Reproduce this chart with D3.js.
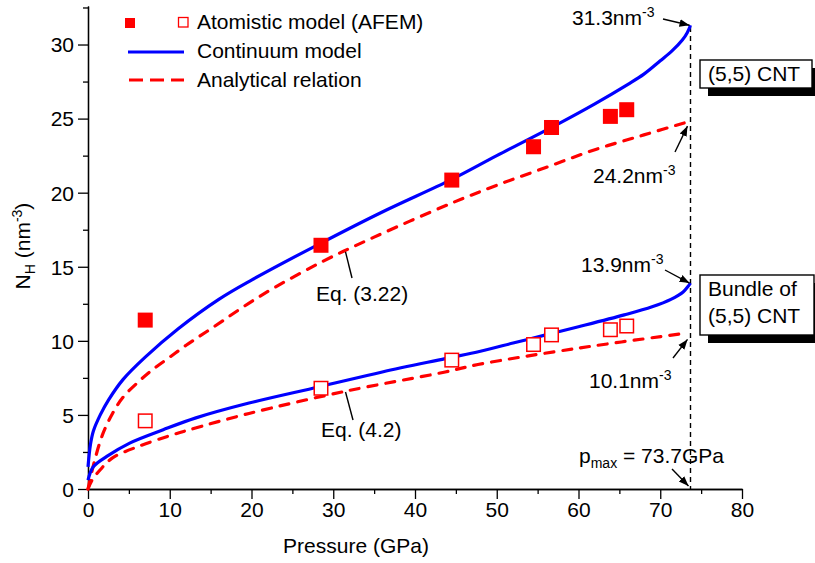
<!DOCTYPE html>
<html>
<head>
<meta charset="utf-8">
<script src="https://cdn.jsdelivr.net/npm/d3@7"></script>
<style>
  body { margin: 0; background: #fff; }
  svg { display: block; }
</style>
</head>
<body>
<div id="chart"></div>
<script>
// values
var atomP = [7, 28.5, 44.5, 54.5, 56.7, 63.9, 65.9];
var atomTube = [11.4, 16.45, 20.85, 23.1, 24.4, 25.15, 25.6];
var atomBundle = [4.6, 6.8, 8.7, 9.75, 10.4, 10.75, 11.0];

var contTubeP = [0, 0.3, 0.65, 1.5, 2.5, 4.3, 7, 11, 16, 20, 28.5, 36, 44.5, 50, 57.7, 62, 66, 68, 70, 71.5, 72.7, 73.3, 73.7];
var contTubeN = [1.5, 3.0, 3.9, 5.0, 6.0, 7.4, 8.9, 10.8, 12.8, 14.1, 16.6, 18.7, 20.9, 22.5, 24.7, 26.0, 27.3, 28.0, 28.9, 29.6, 30.3, 30.8, 31.3];

var anaTubeP = [0, 0.4, 0.85, 1.8, 3, 4.3, 6.3, 8, 10, 12, 15, 21, 28.5, 35, 44.5, 50, 56, 62, 68, 73.5];
var anaTubeN = [0, 1.0, 2.0, 3.7, 5.1, 6.2, 7.3, 8.1, 8.9, 9.7, 10.8, 13.0, 15.3, 17.0, 19.3, 20.5, 21.7, 22.9, 23.9, 24.8];

var contBundleP = [0, 0.65, 2.3, 5.1, 9.2, 13.2, 19.7, 28.3, 36, 43.7, 48, 52, 56, 60, 65.6, 69, 71.3, 72.8, 73.7];
var contBundleN = [0.6, 1.5, 2.2, 3.1, 4.0, 4.8, 5.8, 6.9, 7.9, 8.8, 9.3, 9.85, 10.4, 10.95, 11.75, 12.3, 12.8, 13.3, 13.9];

var anaBundleP = [0, 0.5, 1.5, 3, 6.3, 10, 12.4, 19.7, 31.5, 43.7, 47.7, 59.9, 72.9];
var anaBundleN = [0, 0.6, 1.3, 2.1, 2.9, 3.6, 4.0, 5.1, 6.6, 7.9, 8.4, 9.5, 10.5];

var pMax = 73.7;
var xTicks = [0, 10, 20, 30, 40, 50, 60, 70, 80];
var yTicks = [0, 5, 10, 15, 20, 25, 30];

var width = 815, height = 563;
var mainFont = "'Liberation Sans', Arial, sans-serif";
var fontSize = 21;
var blue = '#0000ff', red = '#ff0000';

var x = d3.scaleLinear().domain([0, 80]).range([88, 742]);
var y = d3.scaleLinear().domain([0, 32.6]).range([489, 6]);

var svg = d3.select('#chart').append('svg')
    .attr('width', width)
    .attr('height', height)
    .style('font-family', mainFont);

svg.append('defs').append('marker')
    .attr('id', 'arrow')
    .attr('viewBox', '0 0 10 10')
    .attr('refX', 10)
    .attr('refY', 5)
    .attr('markerWidth', 10)
    .attr('markerHeight', 10)
    .attr('markerUnits', 'userSpaceOnUse')
    .attr('orient', 'auto')
    .append('path')
    .attr('d', 'M0,1.2 L10,5 L0,8.8 Z')
    .attr('fill', '#000');

function zip(a, b) { return a.map(function(v, i) { return [v, b[i]]; }); }

// axes, ticks outward, minor ticks halfway
var xAxis = svg.append('g').attr('transform', 'translate(0,' + y(0) + ')')
    .call(d3.axisBottom(x).tickValues(xTicks).tickSize(10).tickSizeOuter(0).tickPadding(3));
var xMinor = xTicks.slice(0, -1).map(function(t) { return t + 5; });
svg.append('g').attr('transform', 'translate(0,' + y(0) + ')')
    .call(d3.axisBottom(x).tickValues(xMinor).tickSize(5).tickSizeOuter(0).tickFormat(''));

var yAxis = svg.append('g').attr('transform', 'translate(' + x(0) + ',0)')
    .call(d3.axisLeft(y).tickValues(yTicks).tickSize(10).tickSizeOuter(0).tickPadding(4));
var yMinor = yTicks.map(function(t) { return t + 2.5; });
svg.append('g').attr('transform', 'translate(' + x(0) + ',0)')
    .call(d3.axisLeft(y).tickValues(yMinor).tickSize(5).tickSizeOuter(0).tickFormat(''));

svg.selectAll('.domain').attr('stroke', '#000').attr('stroke-width', 1.3);
svg.selectAll('.tick line').attr('stroke', '#000').attr('stroke-width', 1.3);
svg.selectAll('.tick text')
    .attr('font-family', mainFont)
    .attr('font-size', fontSize)
    .attr('fill', '#000');
yAxis.selectAll('.tick text').attr('dy', '0.35em');

// axis titles
svg.append('text')
    .attr('x', 356)
    .attr('y', 553)
    .attr('text-anchor', 'middle')
    .attr('font-size', fontSize)
    .text('Pressure (GPa)');

var yTitle = svg.append('text')
    .attr('transform', 'translate(30,246) rotate(-90)')
    .attr('text-anchor', 'middle')
    .attr('font-size', fontSize);
yTitle.append('tspan').text('N');
yTitle.append('tspan').attr('font-size', 14).attr('dy', 5).text('H');
yTitle.append('tspan').attr('dy', -5).text(' (nm');
yTitle.append('tspan').attr('font-size', 14).attr('dy', -8).text('-3');
yTitle.append('tspan').attr('dy', 8).text(')');

// p_max marker line
svg.append('line')
    .attr('x1', x(pMax)).attr('x2', x(pMax))
    .attr('y1', 27).attr('y2', y(0))
    .attr('stroke', '#000')
    .attr('stroke-width', 1.4)
    .attr('stroke-dasharray', '5,4');

// curves
var line = d3.line()
    .x(function(d) { return x(d[0]); })
    .y(function(d) { return y(d[1]); })
    .curve(d3.curveCatmullRom.alpha(0.5));

function drawCurve(p, n, color, dashed) {
    var path = svg.append('path')
        .datum(zip(p, n))
        .attr('d', line)
        .attr('fill', 'none')
        .attr('stroke', color)
        .attr('stroke-width', 3.2);
    if (dashed) {
        path.attr('stroke-dasharray', '9,9').attr('stroke-linecap', 'round');
    }
}
drawCurve(anaTubeP, anaTubeN, red, true);
drawCurve(anaBundleP, anaBundleN, red, true);
drawCurve(contTubeP, contTubeN, blue, false);
drawCurve(contBundleP, contBundleN, blue, false);

// atomistic points
var sq = 15;
svg.selectAll('rect.tube')
    .data(zip(atomP, atomTube))
    .enter().append('rect')
    .attr('class', 'tube')
    .attr('x', function(d) { return x(d[0]) - sq / 2; })
    .attr('y', function(d) { return y(d[1]) - sq / 2; })
    .attr('width', sq)
    .attr('height', sq)
    .attr('fill', red);

svg.selectAll('rect.bundle')
    .data(zip(atomP, atomBundle))
    .enter().append('rect')
    .attr('class', 'bundle')
    .attr('x', function(d) { return x(d[0]) - (sq - 1.5) / 2; })
    .attr('y', function(d) { return y(d[1]) - (sq - 1.5) / 2; })
    .attr('width', sq - 1.5)
    .attr('height', sq - 1.5)
    .attr('fill', '#fff')
    .attr('stroke', red)
    .attr('stroke-width', 1.5);

// legend
svg.append('rect').attr('x', 125).attr('y', 18).attr('width', 10).attr('height', 10).attr('fill', red);
svg.append('rect').attr('x', 178.5).attr('y', 17.5).attr('width', 9.5).attr('height', 9.5)
    .attr('fill', '#fff').attr('stroke', red).attr('stroke-width', 1.3);
svg.append('line').attr('x1', 128).attr('x2', 184).attr('y1', 52).attr('y2', 52)
    .attr('stroke', blue).attr('stroke-width', 3.2);
svg.append('line').attr('x1', 129).attr('x2', 184).attr('y1', 80).attr('y2', 80)
    .attr('stroke', red).attr('stroke-width', 3.2).attr('stroke-dasharray', '14,7');

var legendText = ['Atomistic model (AFEM)', 'Continuum model', 'Analytical relation'];
legendText.forEach(function(t, i) {
    svg.append('text')
        .attr('x', 197)
        .attr('y', 29 + i * 29)
        .attr('font-size', fontSize)
        .text(t);
});

// value labels with arrows
function valueLabel(txt, tx, ty, from, to) {
    var t = svg.append('text').attr('x', tx).attr('y', ty).attr('font-size', fontSize);
    t.append('tspan').text(txt);
    t.append('tspan').attr('font-size', 14).attr('dy', -8).text('-3');
    svg.append('line')
        .attr('x1', from[0]).attr('y1', from[1])
        .attr('x2', to[0]).attr('y2', to[1])
        .attr('stroke', '#000').attr('stroke-width', 1.4)
        .attr('marker-end', 'url(#arrow)');
}
var xEnd = x(pMax);
valueLabel('31.3nm', 572, 25, [663, 19], [xEnd - 1, y(31.3)]);
valueLabel('24.2nm', 593, 183, [675, 152], [xEnd - 3, y(24.9) + 6]);
valueLabel('13.9nm', 581, 272, [665, 270], [xEnd - 1, y(13.9)]);
valueLabel('10.1nm', 589, 388, [673, 358], [xEnd - 3, y(10.5) + 6]);

var pm = svg.append('text').attr('x', 579).attr('y', 463).attr('font-size', fontSize);
pm.append('tspan').text('p');
pm.append('tspan').attr('font-size', 14).attr('dy', 5).text('max');
pm.append('tspan').attr('dy', -5).text(' = 73.7GPa');
svg.append('line')
    .attr('x1', 672).attr('y1', 469)
    .attr('x2', xEnd - 2).attr('y2', y(0) - 3)
    .attr('stroke', '#000').attr('stroke-width', 1.4)
    .attr('marker-end', 'url(#arrow)');

// equation labels
function eqLabel(txt, tx, ty, from, to) {
    svg.append('line')
        .attr('x1', from[0]).attr('y1', from[1])
        .attr('x2', to[0]).attr('y2', to[1])
        .attr('stroke', '#000').attr('stroke-width', 1.4);
    svg.append('text').attr('x', tx).attr('y', ty).attr('font-size', fontSize).text(txt);
}
eqLabel('Eq. (3.22)', 316, 301, [x(31.5), y(16.0)], [352, 278]);
eqLabel('Eq. (4.2)', 321, 437, [x(31.5), y(6.55)], [353, 420]);

// boxes with shadow
function box(lines, bx, by, bw, bh) {
    svg.append('rect').attr('x', bx + 8).attr('y', by + 8).attr('width', bw).attr('height', bh).attr('fill', '#000');
    svg.append('rect').attr('x', bx).attr('y', by).attr('width', bw).attr('height', bh)
        .attr('fill', '#fff').attr('stroke', '#000').attr('stroke-width', 1.4);
    lines.forEach(function(l, i) {
        svg.append('text')
            .attr('x', bx + 8)
            .attr('y', by + 21 + i * 27)
            .attr('font-size', fontSize)
            .text(l);
    });
}
box(['(5,5) CNT'], 700, 60, 112, 28);
box(['Bundle of', '(5,5) CNT'], 700, 275, 114, 60);
</script>
</body>
</html>
